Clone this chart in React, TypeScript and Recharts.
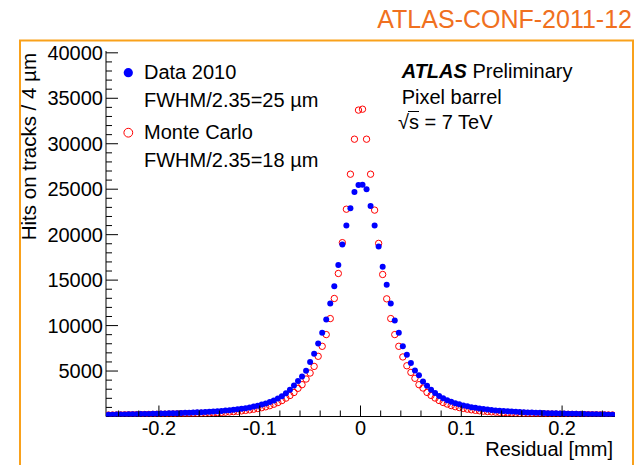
import React from "react";
import { ScatterChart, Scatter, XAxis, YAxis } from "recharts";

// bin centres of the residual histogram, 4 um bins (mm)
const residualBins = [
  -0.25, -0.246, -0.242, -0.238, -0.234, -0.23, -0.226, -0.222, -0.218, -0.214,
  -0.21, -0.206, -0.202, -0.198, -0.194, -0.19, -0.186, -0.182, -0.178, -0.174,
  -0.17, -0.166, -0.162, -0.158, -0.154, -0.15, -0.146, -0.142, -0.138, -0.134,
  -0.13, -0.126, -0.122, -0.118, -0.114, -0.11, -0.106, -0.102, -0.098, -0.094,
  -0.09, -0.086, -0.082, -0.078, -0.074, -0.07, -0.066, -0.062, -0.058, -0.054,
  -0.05, -0.046, -0.042, -0.038, -0.034, -0.03, -0.026, -0.022, -0.018, -0.014,
  -0.01, -0.006, -0.002,
  0.002, 0.006, 0.01, 0.014, 0.018, 0.022, 0.026, 0.03, 0.034, 0.038,
  0.042, 0.046, 0.05, 0.054, 0.058, 0.062, 0.066, 0.07, 0.074, 0.078,
  0.082, 0.086, 0.09, 0.094, 0.098, 0.102, 0.106, 0.11, 0.114, 0.118,
  0.122, 0.126, 0.13, 0.134, 0.138, 0.142, 0.146, 0.15, 0.154, 0.158,
  0.162, 0.166, 0.17, 0.174, 0.178, 0.182, 0.186, 0.19, 0.194, 0.198,
  0.202, 0.206, 0.21, 0.214, 0.218, 0.222, 0.226, 0.23, 0.234, 0.238,
  0.242, 0.246, 0.25,
];

// Data 2010
const dataHits = [
  190, 200, 210, 220, 225, 235, 245, 255, 265, 275,
  285, 295, 305, 320, 330, 345, 355, 370, 385, 400,
  420, 435, 455, 475, 500, 525, 550, 580, 610, 650,
  690, 735, 790, 850, 920, 1000, 1090, 1190, 1310, 1440,
  1590, 1770, 1980, 2230, 2560, 2950, 3400, 3900, 4410, 5040,
  6000, 6910, 8020, 9200, 10660, 12430, 14330, 16650, 18930, 21000,
  22900, 24700, 25470,
  25500, 25000, 23150, 21000, 18700, 16470, 14490, 12430, 10550, 9200,
  7720, 6780, 5890, 5070, 4550, 3860, 3380, 2940, 2580, 2250,
  2000, 1800, 1620, 1470, 1340, 1220, 1120, 1030, 950, 880,
  820, 760, 710, 670, 630, 600, 570, 540, 515, 490,
  470, 450, 430, 415, 400, 385, 370, 360, 345, 335,
  320, 310, 300, 290, 280, 270, 255, 245, 235, 225,
  215, 205, 195,
];

// Monte Carlo
const mcHits = [
  160, 166, 172, 178, 185, 192, 198, 205, 213, 220,
  228, 236, 244, 252, 260, 268, 278, 288, 298, 308,
  318, 330, 342, 356, 370, 386, 405, 425, 448, 472,
  500, 535, 575, 620, 670, 730, 800, 880, 970, 1070,
  1190, 1350, 1530, 1750, 2020, 2310, 2640, 3100, 3500, 4120,
  4780, 5510, 6620, 7720, 9010, 10770, 12980, 15730, 19120, 22800,
  26650, 30500, 33700,
  33800, 30500, 26650, 22700, 19040, 15620, 12940, 10770, 9010, 7720,
  6550, 5580, 4850, 4200, 3500, 3130, 2650, 2320, 2030, 1760,
  1540, 1370, 1200, 1080, 980, 890, 810, 740, 680, 630,
  585, 545, 510, 480, 455, 430, 410, 390, 375, 360,
  345, 330, 320, 310, 300, 290, 280, 270, 262, 255,
  248, 240, 232, 225, 218, 210, 203, 196, 190, 183,
  176, 170, 164,
];

const xTicks = [
  -0.24, -0.22, -0.2, -0.18, -0.16, -0.14, -0.12, -0.1, -0.08, -0.06, -0.04, -0.02,
  0, 0.02, 0.04, 0.06, 0.08, 0.1, 0.12, 0.14, 0.16, 0.18, 0.2, 0.22, 0.24,
];
const xMajor = [-0.2, -0.1, 0, 0.1, 0.2];

const yTicks = [
  1000, 2000, 3000, 4000, 5000, 6000, 7000, 8000, 9000, 10000,
  11000, 12000, 13000, 14000, 15000, 16000, 17000, 18000, 19000, 20000,
  21000, 22000, 23000, 24000, 25000, 26000, 27000, 28000, 29000, 30000,
  31000, 32000, 33000, 34000, 35000, 36000, 37000, 38000, 39000, 40000,
];
const yMajor = [5000, 10000, 15000, 20000, 25000, 30000, 35000, 40000];

const dataRows = residualBins.map((x, i) => ({ x, y: dataHits[i] }));
const mcRows = residualBins.map((x, i) => ({ x, y: mcHits[i] }));

const FONT = "'Liberation Sans', Arial, Helvetica, sans-serif";
const X_DOMAIN: [number, number] = [-0.2525, 0.2525];
const Y_DOMAIN: [number, number] = [0, 40200];

const isMajor = (list: number[], v: number) => list.some((m) => Math.abs(m - v) < 1e-9);
const fmtX = (v: number) => (Math.abs(v) < 1e-9 ? "0" : v.toFixed(1));

function BottomTick({ x, y, payload }: any) {
  const major = isMajor(xMajor, payload.value);
  return (
    <g>
      <line x1={x} y1={y} x2={x} y2={y - (major ? 11 : 6)} stroke="#000" />
      {major && (
        <text x={x} y={y + 18.5} textAnchor="middle" fontSize={20} fontFamily={FONT} fill="#000">
          {fmtX(payload.value)}
        </text>
      )}
    </g>
  );
}

function TopTick({ x, y, payload }: any) {
  const major = isMajor(xMajor, payload.value);
  return <line x1={x} y1={y} x2={x} y2={y + (major ? 11 : 6)} stroke="#000" />;
}

function LeftTick({ x, y, payload }: any) {
  const major = isMajor(yMajor, payload.value);
  return (
    <g>
      <line x1={x} y1={y} x2={x + (major ? 12 : 6)} y2={y} stroke="#000" />
      {major && (
        <text x={x - 3} y={y + 7} textAnchor="end" fontSize={20} fontFamily={FONT} fill="#000">
          {payload.value}
        </text>
      )}
    </g>
  );
}

function RightTick({ x, y, payload }: any) {
  const major = isMajor(yMajor, payload.value);
  return <line x1={x - (major ? 12 : 6)} y1={y} x2={x} y2={y} stroke="#000" />;
}

const DataDot = (p: any) => <circle cx={p.cx} cy={p.cy} r={3} fill="#0000ff" />;
const McDot = (p: any) => (
  <circle cx={p.cx} cy={p.cy} r={3.2} fill="none" stroke="#ff0000" strokeWidth={1} />
);

export default function App() {
  return (
    <div style={{ position: "absolute", left: 0, top: 0, width: 637, height: 465, background: "#fff" }}>
      <ScatterChart width={637} height={465} margin={{ top: 51, right: 22, bottom: 0, left: 0 }}>
        <XAxis
          xAxisId="b"
          type="number"
          dataKey="x"
          domain={X_DOMAIN}
          ticks={xTicks}
          interval={0}
          height={48.5}
          tickSize={0}
          tickMargin={0}
          tickLine={false}
          axisLine={{ stroke: "#000" }}
          tick={(p: any) => <BottomTick {...p} />}
          allowDataOverflow
        />
        <XAxis
          xAxisId="t"
          orientation="top"
          type="number"
          domain={X_DOMAIN}
          ticks={xTicks}
          interval={0}
          height={0}
          tickSize={0}
          tickMargin={0}
          tickLine={false}
          axisLine={{ stroke: "#000" }}
          tick={(p: any) => <TopTick {...p} />}
          allowDataOverflow
        />
        <YAxis
          yAxisId="l"
          type="number"
          dataKey="y"
          domain={Y_DOMAIN}
          ticks={yTicks}
          interval={0}
          width={106}
          tickSize={0}
          tickMargin={0}
          tickLine={false}
          axisLine={{ stroke: "#000" }}
          tick={(p: any) => <LeftTick {...p} />}
          allowDataOverflow
        />
        <YAxis
          yAxisId="r"
          orientation="right"
          type="number"
          domain={Y_DOMAIN}
          ticks={yTicks}
          interval={0}
          width={0}
          tickSize={0}
          tickMargin={0}
          tickLine={false}
          axisLine={{ stroke: "#000" }}
          tick={(p: any) => <RightTick {...p} />}
          allowDataOverflow
        />
        <Scatter
          name="Monte Carlo"
          data={mcRows}
          xAxisId="b"
          yAxisId="l"
          shape={McDot}
          isAnimationActive={false}
        />
        <Scatter
          name="Data 2010"
          data={dataRows}
          xAxisId="b"
          yAxisId="l"
          shape={DataDot}
          isAnimationActive={false}
        />
      </ScatterChart>

      {/* annotations drawn on top, ROOT style */}
      <svg
        width={637}
        height={465}
        style={{ position: "absolute", left: 0, top: 0, pointerEvents: "none" }}
        fontFamily={FONT}
      >
        <rect x={20} y={40.5} width={613} height={440} fill="none" stroke="#f9a11b" strokeWidth={2} />
        <text x={632} y={28} textAnchor="end" fontSize={25} fill="#f07020">
          ATLAS-CONF-2011-12
        </text>

        <text transform="rotate(-90, 36, 53)" x={36} y={53} textAnchor="end" fontSize={20.5} fill="#000">
          Hits on tracks / 4 µm
        </text>
        <text x={613} y={456} textAnchor="end" fontSize={20} fill="#000">
          Residual [mm]
        </text>

        <circle cx={128.3} cy={72.7} r={4.6} fill="#0000ff" />
        <text x={144} y={79.3} fontSize={20} fill="#000">Data 2010</text>
        <text x={144} y={106.7} fontSize={20} fill="#000">FWHM/2.35=25 µm</text>
        <circle cx={128.3} cy={132.7} r={4.4} fill="none" stroke="#ff0000" strokeWidth={1} />
        <text x={144} y={139.3} fontSize={20} fill="#000">Monte Carlo</text>
        <text x={144} y={166.7} fontSize={20} fill="#000">FWHM/2.35=18 µm</text>

        <text x={401.7} y={78.3} fontSize={20} fill="#000">
          <tspan fontWeight="bold" fontStyle="italic">ATLAS</tspan>
          {" Preliminary"}
        </text>
        <text x={401.7} y={104.3} fontSize={20} fill="#000">Pixel barrel</text>
        <text x={398} y={129} fontSize={20} fill="#000">√s = 7 TeV</text>
        <line x1={408} y1={111.5} x2={419} y2={111.5} stroke="#000" strokeWidth={1} />
      </svg>
    </div>
  );
}
